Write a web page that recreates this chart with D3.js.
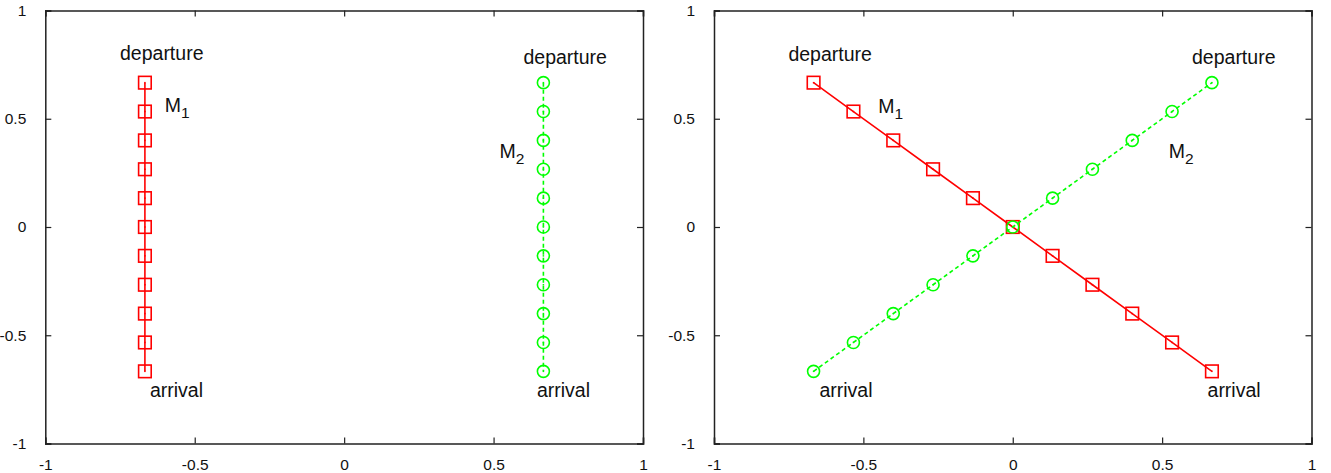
<!DOCTYPE html>
<html><head><meta charset="utf-8">
<script src="https://cdn.jsdelivr.net/npm/d3@7"></script>
<style>
html,body{margin:0;padding:0;background:#fff;}
svg{display:block;font-family:"Liberation Sans",Arial,Helvetica,sans-serif;}
</style></head>
<body>
<svg id="chart" width="1331" height="473"></svg>
<script>
// ---------- data ----------
const tickValues = [-1, -0.5, 0, 0.5, 1];
const tickLabels = ["-1", "-0.5", "0", "0.5", "1"];
// left panel: two vertical paths
const leftM1x = [-0.6667,-0.6667,-0.6667,-0.6667,-0.6667,-0.6667,-0.6667,-0.6667,-0.6667,-0.6667,-0.6667];
const leftM1y = [0.6667,0.5333,0.4,0.2667,0.1333,0,-0.1333,-0.2667,-0.4,-0.5333,-0.6667];
const leftM2x = [0.6667,0.6667,0.6667,0.6667,0.6667,0.6667,0.6667,0.6667,0.6667,0.6667,0.6667];
const leftM2y = [0.6667,0.5333,0.4,0.2667,0.1333,0,-0.1333,-0.2667,-0.4,-0.5333,-0.6667];
// right panel: two crossing diagonal paths
const rightM1x = [-0.6667,-0.5333,-0.4,-0.2667,-0.1333,0,0.1333,0.2667,0.4,0.5333,0.6667];
const rightM1y = [0.6667,0.5333,0.4,0.2667,0.1333,0,-0.1333,-0.2667,-0.4,-0.5333,-0.6667];
const rightM2x = [-0.6667,-0.5333,-0.4,-0.2667,-0.1333,0,0.1333,0.2667,0.4,0.5333,0.6667];
const rightM2y = [-0.6667,-0.5333,-0.4,-0.2667,-0.1333,0,0.1333,0.2667,0.4,0.5333,0.6667];
// annotation labels (text, subscript, data x, data y)
const leftLabels = [
  ["departure","",-0.75,0.77],["M","1",-0.6,0.53],["arrival","",-0.65,-0.783],
  ["departure","",0.6,0.753],["M","2",0.52,0.32],["arrival","",0.645,-0.783]
];
const rightLabels = [
  ["departure","",-0.751,0.769],["M","1",-0.45,0.528],["arrival","",0.652,-0.783],
  ["departure","",0.6,0.753],["M","2",0.522,0.32],["arrival","",-0.647,-0.783]
];

// ---------- drawing ----------
const svg = d3.select("#chart");
const RED = "#ff0000", GREEN = "#00ff00", AXIS = "#222";

function panel(x0, x1, series, labels) {
  const x = d3.scaleLinear().domain([-1, 1]).range([x0, x1]);
  const y = d3.scaleLinear().domain([-1, 1]).range([443.5, 10.5]);
  const g = svg.append("g");
  const fmt = d => tickLabels[tickValues.indexOf(d)];

  // axes (ticks inward, mirrored)
  const bottom = d3.axisBottom(x).tickValues(tickValues).tickSize(-6).tickFormat(fmt).tickPadding(15);
  const top = d3.axisTop(x).tickValues(tickValues).tickSize(-6).tickFormat("");
  const left = d3.axisLeft(y).tickValues(tickValues).tickSize(-6).tickFormat(fmt).tickPadding(19);
  const right = d3.axisRight(y).tickValues(tickValues).tickSize(-6).tickFormat("");
  const axes = [
    g.append("g").attr("transform", `translate(0,${y(-1)})`).call(bottom),
    g.append("g").attr("transform", `translate(0,${y(1)})`).call(top),
    g.append("g").attr("transform", `translate(${x(-1)},0)`).call(left),
    g.append("g").attr("transform", `translate(${x(1)},0)`).call(right)
  ];
  axes.forEach(a => {
    a.select(".domain").attr("stroke", AXIS).attr("stroke-width", 1.5);
    a.selectAll(".tick line").attr("stroke", AXIS).attr("stroke-width", 1.2);
    a.selectAll(".tick text").attr("fill", "#111").style("font-size", "15.5px")
      .style("font-family", "'Liberation Sans',Arial,sans-serif");
  });

  series.forEach(s => {
    const pts = s.xs.map((v, i) => [v, s.ys[i]]);
    g.append("path").datum(pts)
      .attr("d", d3.line().x(d => x(d[0])).y(d => y(d[1])))
      .attr("fill", "none").attr("stroke", s.color).attr("stroke-width", 1.6)
      .attr("stroke-dasharray", s.dash || null);
    const m = g.append("g").selectAll("g").data(pts).join("g")
      .attr("transform", d => `translate(${x(d[0])},${y(d[1])})`);
    if (s.shape === "square") {
      m.append("rect").attr("x", -6.3).attr("y", -6.3).attr("width", 12.6).attr("height", 12.6)
        .attr("fill", "none").attr("stroke", s.color).attr("stroke-width", 1.6);
    } else {
      m.append("circle").attr("r", 6).attr("fill", "none")
        .attr("stroke", s.color).attr("stroke-width", 1.6);
    }
    m.append("rect").attr("x", -0.75).attr("y", -0.75).attr("width", 1.5).attr("height", 1.5)
      .attr("fill", s.color);
  });

  labels.forEach(l => {
    const t = g.append("text").attr("x", x(l[2])).attr("y", y(l[3]))
      .attr("fill", "#111").style("font-size", "19.5px");
    t.append("tspan").text(l[0]);
    if (l[1]) t.append("tspan").attr("dy", 6).style("font-size", "15.5px").text(l[1]);
  });
}

panel(45.3, 643, [
  {xs: leftM1x, ys: leftM1y, color: RED, shape: "square"},
  {xs: leftM2x, ys: leftM2y, color: GREEN, shape: "circle", dash: "4,3"}
], leftLabels);

panel(714, 1311.5, [
  {xs: rightM1x, ys: rightM1y, color: RED, shape: "square"},
  {xs: rightM2x, ys: rightM2y, color: GREEN, shape: "circle", dash: "4,3"}
], rightLabels);
</script>
</body></html>
